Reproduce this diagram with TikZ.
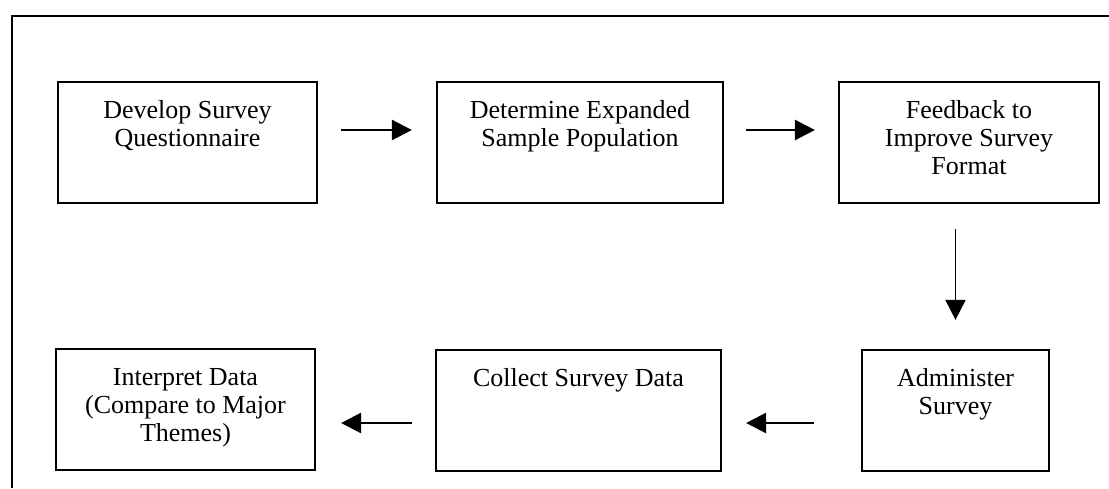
\documentclass[tikz,border=0pt]{standalone}
\usepackage{fontspec}
\setmainfont{Liberation Serif}
\usetikzlibrary{arrows.meta}
\begin{document}
\begin{tikzpicture}[x=1pt,y=-1pt,
  stepbox/.style={draw=black, line width=2.2pt, rectangle, inner sep=0pt},
  txt/.style={anchor=north, inner sep=0pt, align=center, font=\fontsize{26}{28}\selectfont, yshift=-17.4pt},
  arr/.style={line width=2.6pt, -{Triangle[length=20pt,width=20pt]}},
  varr/.style={line width=1.9pt, -{Triangle[length=20pt,width=20pt]}}]
\useasboundingbox (0,0) rectangle (1109,488);
\draw[line width=2.2pt] (1109,16) -- (12,16) -- (12,488);
% boxes
\node[stepbox, minimum width=259pt, minimum height=121pt] (b1) at (187.5,142.5) {};
\node[stepbox, minimum width=286pt, minimum height=121pt] (b2) at (580,142.5) {};
\node[stepbox, minimum width=260pt, minimum height=121pt] (b3) at (969,142.5) {};
\node[stepbox, minimum width=259pt, minimum height=121pt] (b4) at (185.5,409.5) {};
\node[stepbox, minimum width=285pt, minimum height=121pt] (b5) at (578.5,410.5) {};
\node[stepbox, minimum width=187pt, minimum height=121pt] (b6) at (955.5,410.5) {};
% texts
\node[txt] (t1) at (b1.north) {\strut Develop Survey\\Questionnaire};
\node[txt] (t2) at (b2.north) {\strut Determine Expanded\\Sample Population};
\node[txt] (t3) at (b3.north) {\strut Feedback to\\Improve Survey\\Format};
\node[txt] (t4) at (b4.north) {\strut Interpret Data\\(Compare to Major\\Themes)};
\node[txt] (t5) at (b5.north) {\strut Collect Survey Data};
\node[txt] (t6) at (b6.north) {\strut Administer\\Survey};
% connectors
\draw[arr] ([shift={(23,-12.5)}]b1.east) -- ([shift={(-24,-12.5)}]b2.west);
\draw[arr] ([shift={(22,-12.5)}]b2.east) -- ([shift={(-23,-12.5)}]b3.west);
\coordinate (vtop) at ([yshift=-25pt]b6.north |- b3.south);
\draw[varr] (vtop) -- ([shift={(0,-29)}]b6.north);
\draw[arr] ([shift={(-47,12.5)}]b6.west) -- ([shift={(24,12.5)}]b5.east);
\draw[arr] ([shift={(-23,12.5)}]b5.west) -- ([shift={(25,13.5)}]b4.east);
\end{tikzpicture}
\end{document}
